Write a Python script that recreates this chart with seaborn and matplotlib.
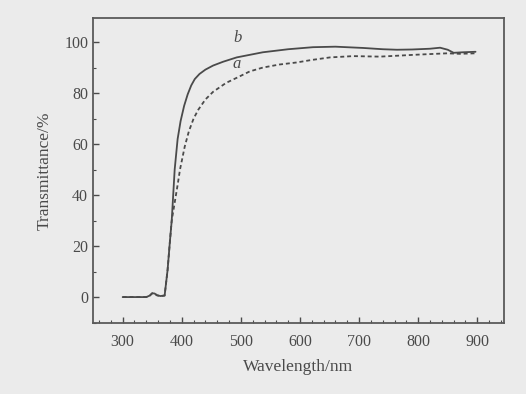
import pandas as pd
import seaborn as sns
import matplotlib.pyplot as plt
from matplotlib.ticker import MultipleLocator

# Transmittance spectra
wl_b = [300, 340, 346, 350, 354, 358, 364, 371, 376, 380, 383, 388, 393, 398, 404, 410,
        416, 422, 430, 440, 453, 470, 493, 515, 537, 580, 622, 660, 707, 740, 764, 790,
        820, 837, 850, 860, 875, 897]
trans_b = [0, 0, 0.6, 1.5, 1.4, 0.7, 0.4, 0.6, 10.6, 22, 30, 50, 62, 69, 75, 79.5,
           83, 85.5, 87.5, 89.2, 90.8, 92.3, 94, 95, 96, 97.2, 98, 98.2, 97.7, 97.2, 97, 97.1,
           97.4, 97.8, 97, 95.8, 96, 96.2]

wl_a = [300, 340, 346, 350, 354, 358, 364, 371, 376, 380, 383, 388, 393, 397, 405, 412,
        420, 428, 440, 453, 475, 493, 515, 537, 565, 594, 620, 651, 690, 735, 760, 792,
        820, 849, 870, 897]
trans_a = [0, 0, 0.6, 1.5, 1.4, 0.7, 0.4, 0.6, 10.6, 22, 30, 37, 44, 50, 59, 65,
           70, 73.5, 77.5, 80.5, 84, 86, 88.5, 90, 91.2, 92, 93, 94, 94.5, 94.3, 94.6, 95,
           95.3, 95.6, 95.4, 95.6]

df = pd.concat([
    pd.DataFrame({'wavelength': wl_b, 'transmittance': trans_b, 'sample': 'b'}),
    pd.DataFrame({'wavelength': wl_a, 'transmittance': trans_a, 'sample': 'a'}),
])

sns.set_style('ticks')
plt.rcParams['font.family'] = ['Liberation Serif', 'DejaVu Serif']

ink = '#4a4a4a'
bg = '#ebebeb'

fig = plt.figure(figsize=(5.26, 3.94), dpi=100, facecolor=bg)
ax = fig.add_axes([0.177, 0.180, 0.781, 0.774])
ax.set_facecolor(bg)

sns.lineplot(data=df, x='wavelength', y='transmittance', hue='sample', style='sample',
             palette={'a': ink, 'b': ink}, dashes={'b': '', 'a': (2.2, 1.6)},
             sort=False, estimator=None, linewidth=1.3, legend=False, ax=ax)

ax.text(495, 101.5, 'b', style='italic', fontsize=12, color=ink, ha='center', va='center')
ax.text(493, 91.5, 'a', style='italic', fontsize=12, color=ink, ha='center', va='center')

ax.set_xlim(250, 945)
ax.set_ylim(-10.2, 109.4)
ax.xaxis.set_major_locator(MultipleLocator(100))
ax.xaxis.set_minor_locator(MultipleLocator(20))
ax.yaxis.set_major_locator(MultipleLocator(20))
ax.yaxis.set_minor_locator(MultipleLocator(10))
ax.tick_params(which='both', direction='in', colors=ink, labelsize=11.5)
ax.tick_params(which='major', length=4, width=1)
ax.tick_params(which='minor', length=2.5, width=0.8)
ax.tick_params(axis='x', pad=8)
for s in ax.spines.values():
    s.set_color('#5a5a5a')
    s.set_linewidth(1.3)

ax.set_xlabel('Wavelength/nm', fontsize=12.5, color=ink, labelpad=6)
ax.set_ylabel('Transmittance/%', fontsize=12.5, color=ink, labelpad=8)

fig.savefig('out.png', dpi=100, facecolor=bg)
